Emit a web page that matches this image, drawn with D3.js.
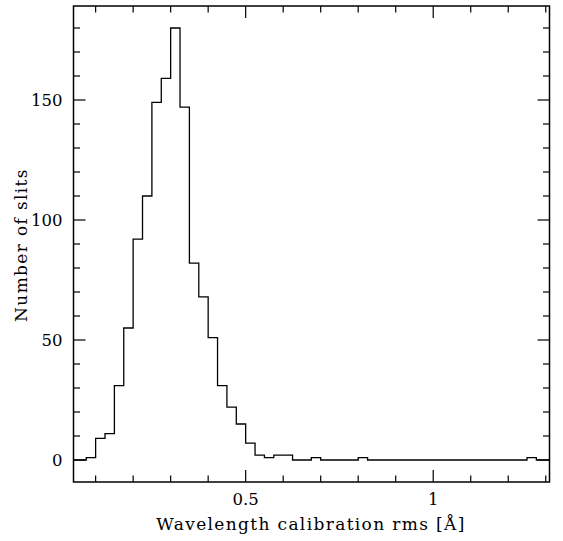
<!DOCTYPE html>
<html>
<head>
<meta charset="utf-8">
<script src="https://cdn.jsdelivr.net/npm/d3@7"></script>
<style>
  html, body { margin: 0; padding: 0; background: #fff; }
  svg { display: block; }
  text { font-family: "DejaVu Serif", "Liberation Serif", serif; fill: #000; }
</style>
</head>
<body>
<svg id="chart" width="563" height="541"></svg>
<script>
// ---- data ----
const binStart = [0.025, 0.05, 0.075, 0.1, 0.125, 0.15, 0.175, 0.2, 0.225, 0.25,
  0.275, 0.3, 0.325, 0.35, 0.375, 0.4, 0.425, 0.45, 0.475, 0.5,
  0.525, 0.55, 0.575, 0.6, 0.625, 0.65, 0.675, 0.7, 0.725, 0.75,
  0.775, 0.8, 0.825, 0.85, 0.875, 0.9, 0.925, 0.95, 0.975, 1.0,
  1.025, 1.05, 1.075, 1.1, 1.125, 1.15, 1.175, 1.2, 1.225, 1.25,
  1.275, 1.3];
const counts = [0, 0, 1, 9, 11, 31, 55, 92, 110, 149,
  159, 180, 147, 82, 68, 51, 31, 22, 15, 7,
  2, 1, 2, 2, 0, 0, 1, 0, 0, 0,
  0, 1, 0, 0, 0, 0, 0, 0, 0, 0,
  0, 0, 0, 0, 0, 0, 0, 0, 0, 1,
  0, 0];
const binWidth = 0.025;
const xMajorTicks = [0.5, 1];
const xMajorLabels = ["0.5", "1"];
const xMinorTicks = [0.1, 0.2, 0.3, 0.4, 0.6, 0.7, 0.8, 0.9, 1.1, 1.2, 1.3];
const yMajorTicks = [0, 50, 100, 150];
const yMinorTicks = [10, 20, 30, 40, 60, 70, 80, 90, 110, 120, 130, 140, 160, 170, 180];
const xTitle = "Wavelength calibration rms [Å]";
const yTitle = "Number of slits";

// ---- layout ----
const L = 73.5, R = 549.5, T = 6, B = 482;
const svg = d3.select("#chart");
const x = d3.scaleLinear().domain([0.041, 1.31]).range([L, R]);
const y = d3.scaleLinear().domain([-9.17, 189.17]).range([B, T]);

svg.append("clipPath").attr("id", "clip")
  .append("rect").attr("x", L).attr("y", T).attr("width", R - L).attr("height", B - T);

// histogram step line
const pts = [];
binStart.forEach((s, i) => {
  pts.push([s, counts[i]]);
  pts.push([s + binWidth, counts[i]]);
});
const line = d3.line().x(d => x(d[0])).y(d => y(d[1]));
svg.append("path")
  .attr("clip-path", "url(#clip)")
  .attr("d", line(pts))
  .attr("fill", "none")
  .attr("stroke", "#000")
  .attr("stroke-width", 1.3);

// frame
svg.append("rect")
  .attr("x", L).attr("y", T).attr("width", R - L).attr("height", B - T)
  .attr("fill", "none").attr("stroke", "#000").attr("stroke-width", 1.5);

const tickG = svg.append("g").attr("stroke", "#000").attr("stroke-width", 1.2);
const majLen = 12, minLen = 6.5;
function xTicks(vals, len) {
  vals.forEach(v => {
    tickG.append("line").attr("x1", x(v)).attr("x2", x(v)).attr("y1", B).attr("y2", B - len);
    tickG.append("line").attr("x1", x(v)).attr("x2", x(v)).attr("y1", T).attr("y2", T + len);
  });
}
function yTicks(vals, len) {
  vals.forEach(v => {
    tickG.append("line").attr("y1", y(v)).attr("y2", y(v)).attr("x1", L).attr("x2", L + len);
    tickG.append("line").attr("y1", y(v)).attr("y2", y(v)).attr("x1", R).attr("x2", R - len);
  });
}
xTicks(xMajorTicks, majLen);
xTicks(xMinorTicks, minLen);
yTicks(yMajorTicks, majLen);
yTicks(yMinorTicks, minLen);

// tick labels
svg.selectAll(".xl").data(xMajorTicks).enter().append("text")
  .attr("x", d => x(d)).attr("y", 505)
  .attr("text-anchor", "middle").attr("font-size", 16.5)
  .text((d, i) => xMajorLabels[i]);
svg.selectAll(".yl").data(yMajorTicks).enter().append("text")
  .attr("x", 62.5).attr("y", d => y(d) + 6)
  .attr("text-anchor", "end").attr("font-size", 16.5)
  .text(d => d);

// axis titles
svg.append("text")
  .attr("x", 311).attr("y", 530)
  .attr("text-anchor", "middle").attr("font-size", 17)
  .attr("letter-spacing", 1.35)
  .text(xTitle);
svg.append("text")
  .attr("transform", "translate(27,245) rotate(-90)")
  .attr("text-anchor", "middle").attr("font-size", 17)
  .attr("letter-spacing", 1.35)
  .text(yTitle);
</script>
</body>
</html>
